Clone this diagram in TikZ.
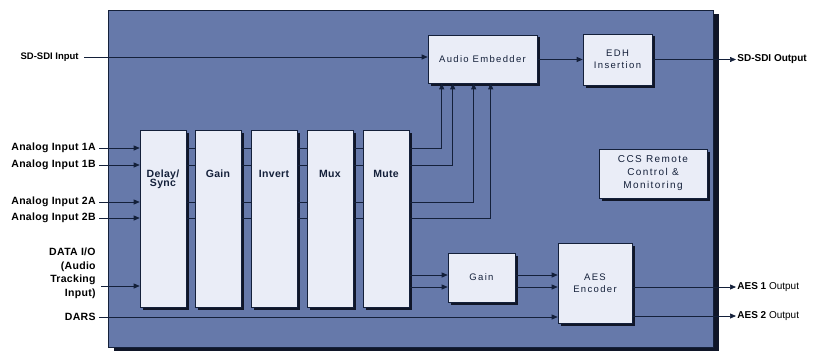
\documentclass[tikz,border=0pt]{standalone}
\usepackage{fontspec}
\setmainfont{Liberation Sans}
\newfontfamily\lblfont[LetterSpace=3]{Liberation Sans}
\newfontfamily\boxfont[LetterSpace=14]{Liberation Sans}
\usetikzlibrary{arrows.meta,positioning,shadows}
\definecolor{panel}{RGB}{102,121,170}
\definecolor{wire}{RGB}{20,32,58}
\definecolor{boxfill}{RGB}{234,237,247}
\definecolor{shade}{RGB}{16,22,40}

\begin{document}
\begin{tikzpicture}[x=1pt,y=-1pt,line width=0.7pt,>={Triangle[length=6pt,width=5pt]},
  blk/.style={draw=wire,fill=boxfill,line width=0.6pt,inner sep=0pt,
    drop shadow={shadow xshift=2.5pt,shadow yshift=-2.5pt,fill=shade,opacity=1}},
  slab/.style={blk,minimum width=46pt,minimum height=177pt},
  slabtxt/.style={anchor=north,yshift=-37pt,align=center,
    font=\lblfont\bfseries\fontsize{10.5}{11}\selectfont,text=wire},
  boxtxt/.style={align=center,font=\boxfont\fontsize{9.5}{12}\selectfont,text=wire},
  inlbl/.style={anchor=east,inner sep=1pt,align=right,text=black,
    font=\lblfont\bfseries\fontsize{10.5}{13.5}\selectfont},
  outlbl/.style={anchor=west,inner sep=1pt,text=black,
    font=\bfseries\fontsize{10}{12}\selectfont},
  wr/.style={draw=wire}]
\useasboundingbox (0,0) rectangle (821,353);
% main panel
\fill[panel,draw=wire,line width=0.8pt,
  drop shadow={shadow xshift=6pt,shadow yshift=-4pt,fill=shade,opacity=1}]
  (108,10) rectangle (713,347);
% processing slabs
\node[slab,label={[slabtxt]north:Delay/\\[-2pt]Sync}] (delay)  at (163,218.5) {};
\node[slab,label={[slabtxt]north:Gain}]   (gain)   at (218,218.5) {};
\node[slab,label={[slabtxt]north:Invert}] (invert) at (274,218.5) {};
\node[slab,label={[slabtxt]north:Mux}]    (mux)    at (330,218.5) {};
\node[slab,label={[slabtxt]north:Mute}]   (mute)   at (386,218.5) {};
% other blocks
\node[blk,boxtxt,minimum width=109pt,minimum height=48pt] (emb) at (482.5,59) {Audio Embedder};
\node[blk,boxtxt,minimum width=69pt,minimum height=51pt] (edh) at (617.5,59.5) {EDH\\Insertion};
\node[blk,boxtxt,font=\boxfont\fontsize{10}{13}\selectfont,
  minimum width=108pt,minimum height=49pt] (ccs) at (653,173.5) {CCS Remote\\Control \&\\Monitoring};
\node[blk,boxtxt,minimum width=67pt,minimum height=49pt] (gain2) at (481.5,277.5) {Gain};
\node[blk,boxtxt,minimum width=74pt,minimum height=80pt] (aes) at (595,283) {AES\\Encoder};
% inputs
\node[inlbl,font=\bfseries\fontsize{9.5}{12}\selectfont] (sdin) at (80,57) {SD-SDI Input};
\node[inlbl] (a1a) at (97,148) {Analog Input 1A};
\node[inlbl] (a1b) at (97,165) {Analog Input 1B};
\node[inlbl] (a2a) at (97,202) {Analog Input 2A};
\node[inlbl] (a2b) at (97,218) {Analog Input 2B};
\node[inlbl] (data) at (97,273.5) {DATA I/O\\(Audio\\Tracking\\Input)};
\node[inlbl] (dars) at (97,317) {DARS};
% outputs
\node[outlbl] (sdout) at (736,59.5) {SD-SDI Output};
\node[outlbl] (aes1) at (736,287) {AES 1 \mdseries Output};
\node[outlbl] (aes2) at (736,316) {AES 2 \mdseries Output};
% taps on the embedder and the aes path
\path (emb.south west) ++(14,0) coordinate (e1) ++(11,0) coordinate (e2)
  ++(21,0) coordinate (e3) ++(17,0) coordinate (e4);
\coordinate (d1) at (448,275);
\coordinate (d2) at (448,287);
\coordinate (dt) at (101,286);
% video path
\draw[wr,->] ([xshift=4pt]sdin.east) -- (emb.west |- sdin.east);
\draw[wr,->] (emb.east |- edh.west) -- (edh.west);
\draw[wr,->] (edh.east) -- (sdout.west);
% analog rows through the slabs
\foreach \r in {a1a,a1b,a2a,a2b}{
  \draw[wr,->] ([xshift=2pt]\r.east) -- (delay.west |- \r.east);
  \foreach \p/\q in {delay/gain,gain/invert,invert/mux,mux/mute}
    \draw[wr] (\p.east |- \r.east) -- (\q.west |- \r.east);
}
\draw[wr,->] (dt) -- (delay.west |- dt);
% mute to embedder
\draw[wr,->] (mute.east |- a1a.east) -| (e1);
\draw[wr,->] (mute.east |- a1b.east) -| (e2);
\draw[wr,->] (mute.east |- a2a.east) -| (e3);
\draw[wr,->] (mute.east |- a2b.east) -| (e4);
% mute to gain to aes
\draw[wr,->] (mute.east |- d1) -- (gain2.west |- d1);
\draw[wr,->] (mute.east |- d2) -- (gain2.west |- d2);
\draw[wr,->] (gain2.east |- d1) -- (aes.west |- d1);
\draw[wr,->] (gain2.east |- d2) -- (aes.west |- d2);
\draw[wr,->] ([xshift=2pt]dars.east) -- (aes.west |- dars.east);
\draw[wr,->] (aes.east |- aes1.west) -- (aes1.west);
\draw[wr,->] (aes.east |- aes2.west) -- (aes2.west);
\end{tikzpicture}
\end{document}
